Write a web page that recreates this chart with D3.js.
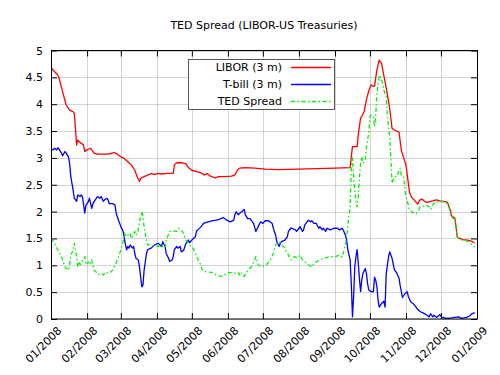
<!DOCTYPE html>
<html><head><meta charset="utf-8">
<script src="https://cdn.jsdelivr.net/npm/d3@7"></script>
<style>
html,body{margin:0;padding:0;background:#fff;}
svg{display:block;font-family:"DejaVu Sans",sans-serif;}
</style></head>
<body><svg id="chart" width="500" height="375"></svg>
<script>
const title = "TED Spread (LIBOR-US Treasuries)";
const seriesNames = ["LIBOR (3 m)", "T-bill (3 m)", "TED Spread"];
const seriesColors = ["#ff0000", "#0000ff", "#00f000"];
const yTicks = [0, 0.5, 1, 1.5, 2, 2.5, 3, 3.5, 4, 4.5, 5];
const yTickLabels = ["0", "0.5", "1", "1.5", "2", "2.5", "3", "3.5", "4", "4.5", "5"];
const xTickLabels = ["01/2008","02/2008","03/2008","04/2008","05/2008","06/2008","07/2008","08/2008","09/2008","10/2008","11/2008","12/2008","01/2009"];

// LIBOR 3 month (date MM-DD in 2008, percent)
const libor = [
["01-01",4.68],["01-04",4.61],["01-07",4.54],["01-08",4.48],["01-11",4.23],["01-14",3.99],["01-17",3.89],["01-20",3.86],["01-21",3.83],["01-23",3.24],["01-24",3.33],["01-27",3.27],["01-29",3.24],["01-30",3.12],
["02-01",3.15],["02-04",3.18],["02-06",3.12],["02-07",3.09],["02-10",3.07],["02-13",3.07],["02-19",3.07],["02-24",3.10],["02-27",3.07],
["03-01",3.02],["03-04",2.99],["03-07",2.93],["03-10",2.87],["03-13",2.77],["03-15",2.65],["03-17",2.56],["03-18",2.62],["03-21",2.65],["03-24",2.68],["03-27",2.71],["03-30",2.69],
["04-02",2.71],["04-05",2.70],["04-10",2.71],["04-15",2.71],["04-16",2.87],["04-18",2.91],["04-22",2.91],["04-26",2.89],["04-28",2.82],
["05-01",2.77],["05-06",2.74],["05-09",2.72],["05-12",2.68],["05-14",2.71],["05-17",2.66],["05-21",2.63],["05-24",2.65],["05-29",2.65],
["06-04",2.66],["06-07",2.68],["06-09",2.77],["06-11",2.81],["06-16",2.82],["06-24",2.81],
["07-03",2.79],["07-14",2.78],["08-01",2.79],["08-16",2.80],["09-01",2.81],["09-14",2.82],
["09-15",3.02],["09-16",3.21],["09-20",3.21],["09-21",3.43],["09-23",3.75],["09-24",3.77],["09-26",3.86],["09-28",4.08],["09-30",4.25],
["10-02",4.36],["10-04",4.33],["10-05",4.34],["10-07",4.64],["10-09",4.82],["10-11",4.76],["10-12",4.64],["10-14",4.42],["10-16",4.18],["10-18",3.92],["10-20",3.55],["10-22",3.52],["10-26",3.48],["10-28",3.14],["10-30",3.00],
["11-01",2.86],["11-03",2.53],["11-04",2.36],["11-06",2.26],["11-08",2.22],["11-11",2.14],["11-13",2.22],["11-15",2.23],["11-17",2.19],["11-19",2.17],["11-22",2.19],["11-24",2.20],["11-27",2.22],["11-30",2.20],
["12-03",2.19],["12-06",2.18],["12-07",2.15],["12-09",2.03],["12-10",1.92],["12-13",1.88],["12-14",1.72],["12-15",1.53],["12-17",1.50],["12-20",1.48],["12-24",1.47],["12-27",1.45],["12-30",1.42]
];

// T-bill 3 month
const tbill = [
["01-01",3.16],["01-03",3.15],["01-04",3.18],["01-06",3.15],["01-07",3.19],["01-08",3.16],["01-10",3.09],["01-11",3.04],["01-13",3.12],["01-14",3.09],["01-16",3.02],["01-17",2.90],["01-18",2.65],["01-20",2.40],["01-21",2.25],["01-23",2.19],["01-24",2.31],["01-26",2.28],["01-27",2.31],["01-28",2.28],["01-30",1.97],["01-31",2.12],
["02-02",2.18],["02-03",2.25],["02-05",2.06],["02-06",2.15],["02-08",2.22],["02-10",2.28],["02-12",2.25],["02-13",2.28],["02-15",2.19],["02-16",2.22],["02-18",2.25],["02-19",2.22],["02-20",2.15],["02-23",2.15],["02-25",2.12],["02-26",1.97],["02-28",1.84],
["03-01",1.72],["03-03",1.63],["03-04",1.50],["03-05",1.38],["03-06",1.29],["03-07",1.35],["03-08",1.32],["03-09",1.38],["03-11",1.32],["03-12",1.35],["03-13",1.22],["03-14",1.13],["03-16",1.10],["03-17",0.97],["03-18",0.79],["03-19",0.60],["03-20",0.63],["03-21",0.91],["03-23",1.22],["03-24",1.29],["03-27",1.32],["03-30",1.38],
["04-02",1.41],["04-05",1.35],["04-06",1.44],["04-08",1.35],["04-09",1.22],["04-11",1.13],["04-12",1.07],["04-14",1.10],["04-15",1.16],["04-16",1.29],["04-18",1.35],["04-19",1.32],["04-21",1.35],["04-22",1.25],["04-24",1.28],["04-25",1.35],["04-26",1.41],["04-28",1.47],["04-29",1.42],
["05-01",1.47],["05-04",1.53],["05-05",1.63],["05-06",1.66],["05-09",1.72],["05-11",1.78],["05-12",1.79],["05-15",1.81],["05-19",1.83],["05-22",1.84],["05-25",1.86],["05-28",1.89],["05-31",1.84],
["06-03",1.81],["06-06",1.84],["06-07",1.94],["06-08",2.00],["06-10",1.94],["06-11",1.97],["06-13",2.00],["06-15",2.04],["06-16",1.94],["06-18",1.87],["06-20",1.87],["06-23",1.78],["06-25",1.63],["06-27",1.72],["06-29",1.81],
["07-01",1.78],["07-03",1.83],["07-06",1.83],["07-09",1.78],["07-10",1.69],["07-12",1.56],["07-13",1.44],["07-15",1.35],["07-16",1.41],["07-17",1.44],["07-20",1.47],["07-22",1.53],["07-23",1.63],["07-25",1.69],["07-26",1.69],["07-29",1.66],["07-30",1.63],
["08-01",1.69],["08-02",1.72],["08-04",1.63],["08-05",1.66],["08-06",1.75],["08-09",1.84],["08-11",1.81],["08-12",1.83],["08-14",1.78],["08-16",1.78],["08-18",1.69],["08-19",1.72],["08-21",1.66],["08-22",1.69],["08-24",1.63],["08-25",1.69],["08-28",1.66],["08-31",1.69],
["09-03",1.69],["09-05",1.66],["09-07",1.69],["09-08",1.66],["09-10",1.56],["09-11",1.47],["09-12",1.29],["09-14",1.10],["09-15",0.66],["09-16",0.04],["09-17",0.42],["09-18",0.97],["09-19",1.16],["09-20",1.29],["09-21",1.04],["09-22",0.75],["09-23",0.51],["09-24",0.73],["09-25",0.85],["09-27",0.94],["09-28",0.85],["09-29",0.66],["09-30",0.54],
["10-02",0.51],["10-04",0.51],["10-05",0.78],["10-06",0.72],["10-07",0.60],["10-08",0.35],["10-09",0.22],["10-11",0.29],["10-13",0.33],["10-14",0.22],["10-15",0.84],["10-17",1.16],["10-18",1.25],["10-20",1.13],["10-22",0.92],["10-24",0.86],["10-26",0.76],["10-27",0.62],["10-29",0.40],["10-31",0.47],
["11-02",0.51],["11-03",0.42],["11-05",0.32],["11-07",0.29],["11-09",0.24],["11-11",0.18],["11-13",0.14],["11-16",0.11],["11-19",0.07],["11-21",0.04],["11-22",0.10],["11-24",0.04],["11-25",0.07],["11-27",0.03],["11-29",0.06],["11-30",0.08],
["12-02",0.03],["12-06",0.01],["12-10",0.02],["12-13",0.03],["12-16",0.04],["12-19",0.01],["12-23",0.03],["12-26",0.06],["12-27",0.09],["12-30",0.12]
];

// TED spread
const ted = [
["01-01",1.50],["01-04",1.41],["01-07",1.28],["01-10",1.16],["01-13",0.97],["01-16",0.91],["01-17",1.01],["01-18",1.19],["01-20",1.28],["01-21",1.41],["01-23",1.16],["01-24",0.97],["01-25",1.07],["01-26",1.01],["01-28",1.07],["01-30",1.16],["01-31",1.01],
["02-02",1.06],["02-03",1.01],["02-05",1.10],["02-06",1.01],["02-07",0.91],["02-09",0.87],["02-10",0.83],["02-13",0.85],["02-15",0.82],["02-17",0.87],["02-20",0.85],["02-23",0.91],["02-26",1.04],["02-29",1.22],
["03-03",1.44],["03-04",1.60],["03-06",1.53],["03-07",1.56],["03-09",1.60],["03-10",1.50],["03-11",1.53],["03-13",1.63],["03-14",1.56],["03-16",1.66],["03-17",1.81],["03-19",2.00],["03-20",1.91],["03-21",1.72],["03-23",1.47],["03-24",1.38],["03-27",1.38],["03-30",1.36],
["04-02",1.35],["04-05",1.38],["04-06",1.32],["04-08",1.35],["04-09",1.47],["04-12",1.63],["04-15",1.64],["04-18",1.63],["04-20",1.69],["04-23",1.63],["04-26",1.47],["04-29",1.38],
["05-02",1.32],["05-05",1.16],["05-08",1.04],["05-10",0.91],["05-13",0.88],["05-18",0.87],["05-22",0.82],["05-26",0.79],["05-29",0.82],
["06-02",0.87],["06-07",0.85],["06-10",0.87],["06-11",0.82],["06-12",0.87],["06-15",0.79],["06-18",0.91],["06-21",0.97],["06-24",1.10],["06-25",1.16],["06-27",1.01],["06-30",0.97],
["07-04",1.01],["07-07",1.08],["07-10",1.22],["07-12",1.38],["07-15",1.44],["07-17",1.39],["07-20",1.32],["07-23",1.19],["07-25",1.10],["07-28",1.16],["07-31",1.14],
["08-02",1.19],["08-04",1.10],["08-07",1.04],["08-12",0.97],["08-14",1.04],["08-19",1.10],["08-23",1.13],["08-27",1.16],
["09-01",1.16],["09-05",1.19],["09-07",1.15],["09-09",1.30],["09-11",1.50],["09-12",1.75],["09-14",2.09],["09-15",2.80],["09-16",3.02],["09-17",2.65],["09-18",2.40],["09-19",2.15],["09-20",2.09],["09-21",2.28],["09-22",2.65],["09-23",2.90],["09-24",3.02],["09-25",2.90],["09-27",2.96],["09-28",3.21],["09-30",3.46],
["10-01",3.77],["10-02",3.80],["10-04",3.77],["10-05",3.58],["10-06",3.80],["10-07",4.20],["10-09",4.54],["10-10",4.51],["10-12",4.39],["10-13",4.26],["10-15",4.14],["10-16",3.77],["10-18",3.40],["10-19",2.96],["10-20",2.53],["10-22",2.65],["10-24",2.65],["10-27",2.81],["10-28",2.68],["10-30",2.65],["10-31",2.43],
["11-01",2.28],["11-03",2.12],["11-04",2.03],["11-07",1.98],["11-10",1.96],["11-12",2.03],["11-13",2.09],["11-16",2.10],["11-19",2.12],["11-21",2.08],["11-22",2.04],["11-24",2.12],["11-26",2.19],["11-29",2.17],
["12-02",2.19],["12-05",2.17],["12-07",2.14],["12-09",2.00],["12-11",1.88],["12-13",1.86],["12-14",1.69],["12-15",1.53],["12-19",1.47],["12-23",1.46],["12-26",1.42],["12-29",1.35],["12-30",1.34]
];

const svg = d3.select("#chart");
const W = 500, H = 375;
const m = {left: 51, right: 477, top: 50.5, bottom: 319};
const parse = d3.utcParse("%Y-%m-%d");
const toPts = arr => arr.map(([d, v]) => ({date: parse("2008-" + d), value: v}));
const series = [toPts(libor), toPts(tbill), toPts(ted)];

const x = d3.scaleUtc().domain([Date.UTC(2008,0,1), Date.UTC(2009,0,1)]).range([m.left, m.right]);
const y = d3.scaleLinear().domain([0, 5]).range([m.bottom, m.top]);
const monthTicks = d3.utcMonth.range(new Date(Date.UTC(2008,0,1)), new Date(Date.UTC(2009,0,2)));

svg.append("rect").attr("width", W).attr("height", H).attr("fill", "#fff");

// grid
const grid = svg.append("g").attr("stroke", "#a0a0a0").attr("stroke-opacity", 0.45).attr("stroke-width", 1);
monthTicks.forEach(t => grid.append("line").attr("x1", Math.round(x(t))+0.5).attr("x2", Math.round(x(t))+0.5).attr("y1", m.top).attr("y2", m.bottom));
yTicks.forEach(t => grid.append("line").attr("x1", m.left).attr("x2", m.right).attr("y1", Math.round(y(t))+0.5).attr("y2", Math.round(y(t))+0.5));

// axes with inward ticks on all sides
const tl = 6;
const xAxisB = d3.axisBottom(x).tickValues(monthTicks).tickSize(-tl).tickPadding(6).tickFormat((d,i) => xTickLabels[i]);
const gxb = svg.append("g").attr("transform", `translate(0,${m.bottom})`).call(xAxisB);
gxb.select(".domain").remove();
gxb.selectAll("text").attr("font-size", 11).attr("font-family", "DejaVu Sans").attr("fill", "#000")
  .attr("text-anchor", "end").attr("dx", "-0.1em").attr("dy", "0.55em").attr("y", 6).attr("x", 0)
  .attr("transform", "translate(3,3) rotate(-45)");

const xAxisT = d3.axisTop(x).tickValues(monthTicks).tickSize(-tl).tickFormat("");
const gxt = svg.append("g").attr("transform", `translate(0,${m.top})`).call(xAxisT);
gxt.select(".domain").remove();

const yAxisL = d3.axisLeft(y).tickValues(yTicks).tickSize(-tl).tickPadding(8).tickFormat((d,i) => yTickLabels[i]);
const gyl = svg.append("g").attr("transform", `translate(${m.left},0)`).call(yAxisL);
gyl.select(".domain").remove();
gyl.selectAll("text").attr("font-size", 11).attr("font-family", "DejaVu Sans").attr("fill", "#000");

const yAxisR = d3.axisRight(y).tickValues(yTicks).tickSize(-tl).tickFormat("");
const gyr = svg.append("g").attr("transform", `translate(${m.right},0)`).call(yAxisR);
gyr.select(".domain").remove();

svg.selectAll(".tick line").attr("stroke", "#000");

// lines
const line = d3.line().x(d => x(d.date)).y(d => y(d.value));
svg.append("clipPath").attr("id", "clip").append("rect")
  .attr("x", m.left).attr("y", m.top).attr("width", m.right - m.left).attr("height", m.bottom - m.top);
const dashes = [null, null, "4,2.5,1.5,2.5"];
[0, 1, 2].forEach(i => {
  svg.append("path").datum(series[i]).attr("d", line).attr("fill", "none")
    .attr("stroke", seriesColors[i]).attr("stroke-width", 1.3)
    .attr("stroke-dasharray", dashes[i]).attr("stroke-linejoin", "round")
    .attr("clip-path", "url(#clip)");
});

// border
svg.append("rect").attr("x", m.left+0.5).attr("y", m.top).attr("width", m.right - m.left).attr("height", m.bottom - m.top)
  .attr("fill", "none").attr("stroke", "#000").attr("stroke-width", 1);

// title
svg.append("text").attr("x", (m.left + m.right)/2).attr("y", 29).attr("text-anchor", "middle")
  .attr("font-size", 11).attr("fill", "#000").text(title);

// legend
const lg = svg.append("g");
lg.append("rect").attr("x", 188.5).attr("y", 59.5).attr("width", 146).attr("height", 50)
  .attr("fill", "#fff").attr("stroke", "#555").attr("stroke-width", 1);
const rowY = [67.5, 84.5, 101.5];
seriesNames.forEach((n, i) => {
  lg.append("text").attr("x", 282).attr("y", rowY[i]).attr("dy", "0.35em").attr("text-anchor", "end")
    .attr("font-size", 11).attr("fill", "#000").text(n);
  lg.append("line").attr("x1", 291).attr("x2", 331).attr("y1", rowY[i]).attr("y2", rowY[i])
    .attr("stroke", seriesColors[i]).attr("stroke-width", 1.3).attr("stroke-dasharray", dashes[i]);
});
</script></body></html>
